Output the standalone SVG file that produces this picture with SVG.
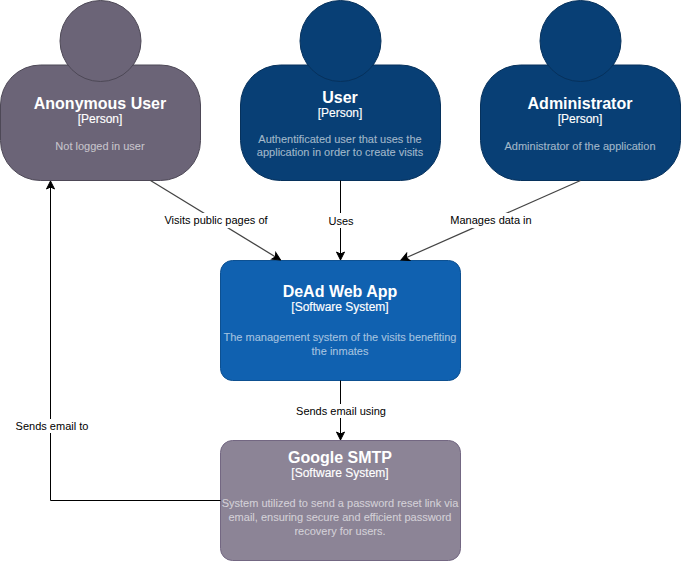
<svg xmlns="http://www.w3.org/2000/svg" width="681" height="561" viewBox="0 0 681 561">
<style>
text{font-family:"Liberation Sans",Arial,sans-serif;text-anchor:middle}
.n{font-size:16px;font-weight:bold;fill:#fff}
.t{font-size:12px;fill:#fff;stroke:#fff;stroke-width:.15}
.d{font-size:11px;fill:#fff;fill-opacity:.6;stroke:#fff;stroke-opacity:.3;stroke-width:.2}
.anon{fill:#6b6477;stroke:#4d4856}
.user{fill:#083f75;stroke:#06315c}
.app{fill:#1061b0;stroke:#0d5091}
.smtp{fill:#8c8496;stroke:#736782}
.c{fill:none;stroke:#000;stroke-width:1;marker-end:url(#a)}
.g{stroke:#444;stroke-width:1.2}
.lb{fill:#fff}
.l{font-size:11px;fill:#000}
</style>
<defs>
<marker id="a" markerUnits="userSpaceOnUse" markerWidth="10" markerHeight="10" refX="9" refY="5" orient="auto"><path d="M1 1L9 5L1 9L3 5Z" fill="#000" stroke="#000"/></marker>
</defs>
<g id="node-anonymous-user">
<rect class="anon" x="0.500" y="65" width="200" height="115.500" rx="40" ry="40"/>
<circle class="anon" cx="100.500" cy="41" r="40.500"/>
<text class="n" x="100" y="109">Anonymous User</text>
<text class="t" x="100" y="123">[Person]</text>
<text class="d" x="100" y="150">Not logged in user</text>
</g>
<g id="node-user">
<rect class="user" x="240.500" y="65" width="200" height="115.500" rx="40" ry="40"/>
<circle class="user" cx="340.500" cy="41" r="40.500"/>
<text class="n" x="340" y="103">User</text>
<text class="t" x="340" y="117">[Person]</text>
<text class="d" x="340" y="143">Authentificated user that uses the</text>
<text class="d" x="340" y="156">application in order to create visits</text>
</g>
<g id="node-administrator">
<rect class="user" x="480.500" y="65" width="200" height="115.500" rx="40" ry="40"/>
<circle class="user" cx="580.500" cy="41" r="40.500"/>
<text class="n" x="580" y="109">Administrator</text>
<text class="t" x="580" y="123">[Person]</text>
<text class="d" x="580" y="150">Administrator of the application</text>
</g>
<g id="node-dead-web-app">
<rect class="app" x="220.500" y="260.500" width="240" height="120" rx="12" ry="12"/>
<text class="n" x="340" y="297">DeAd Web App</text>
<text class="t" x="340" y="311">[Software System]</text>
<text class="d" x="340" y="341">The management system of the visits benefiting</text>
<text class="d" x="340" y="355">the inmates</text>
</g>
<g id="node-google-smtp">
<rect class="smtp" x="220.500" y="440.500" width="240" height="120" rx="12" ry="12"/>
<text class="n" x="340" y="463">Google SMTP</text>
<text class="t" x="340" y="477">[Software System]</text>
<text class="d" x="340" y="507">System utilized to send a password reset link via</text>
<text class="d" x="340" y="521">email, ensuring secure and efficient password</text>
<text class="d" x="340" y="535">recovery for users.</text>
</g>
<g id="connectors">
<path class="c g" d="M150.500 180.500L280.500 260"/>
<path class="c" d="M340.500 180.500V260"/>
<path class="c g" d="M580.500 180.500L401 260"/>
<path class="c" d="M340.500 380.500V440"/>
<path class="c" d="M220.500 500.500H50.500V181"/>
<rect class="lb" x="163" y="213" width="106" height="15"/>
<text class="l" x="216" y="224">Visits public pages of</text>
<rect class="lb" x="328" y="213" width="27" height="15"/>
<text class="l" x="341" y="225">Uses</text>
<rect class="lb" x="450" y="213" width="83" height="15"/>
<text class="l" x="491" y="224">Manages data in</text>
<rect class="lb" x="296" y="404" width="91" height="14"/>
<text class="l" x="341" y="415">Sends email using</text>
<rect class="lb" x="15" y="419" width="74" height="14"/>
<text class="l" x="52" y="430">Sends email to</text>
</g>
</svg>
